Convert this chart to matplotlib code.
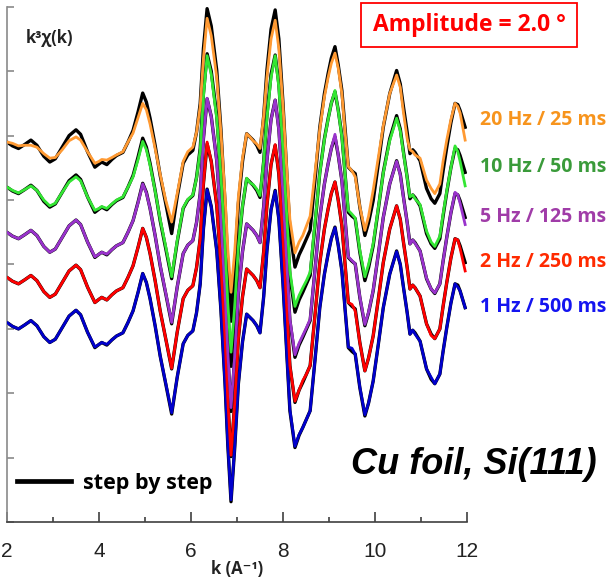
import numpy as np
import matplotlib
matplotlib.use('Agg')
import matplotlib.pyplot as plt
from matplotlib.lines import Line2D
from matplotlib.patches import Rectangle

# k grid (A^-1) and k^3 chi(k) values (relative to each curve's offset)
k = [2.00, 2.12, 2.25, 2.38, 2.52, 2.65, 2.80, 2.93, 3.05, 3.20,
     3.35, 3.50, 3.60, 3.75, 3.91, 4.00, 4.06, 4.17, 4.28, 4.38,
     4.52, 4.63, 4.74, 4.85, 4.95, 5.03, 5.11, 5.22, 5.33, 5.45,
     5.58, 5.70, 5.83, 5.93, 6.04, 6.12, 6.20, 6.27, 6.35, 6.44,
     6.56, 6.65, 6.74, 6.80, 6.87, 6.95, 7.03, 7.12, 7.21, 7.28,
     7.35, 7.43, 7.50, 7.58, 7.65, 7.74, 7.83, 7.91, 8.00, 8.08,
     8.15, 8.26, 8.35, 8.43, 8.51, 8.59, 8.70, 8.80, 8.90, 8.98,
     9.05, 9.13, 9.20, 9.28, 9.35, 9.42, 9.50, 9.57, 9.67, 9.78,
     9.86, 9.96, 10.07, 10.18, 10.32, 10.47, 10.55, 10.62, 10.70, 10.76,
     10.82, 10.87, 10.98, 11.12, 11.22, 11.30, 11.41, 11.48, 11.56, 11.65,
     11.74, 11.80, 11.85, 11.96]

chi_step = [0.00, -0.06, -0.10, -0.04, 0.03, -0.05, -0.22, -0.31, -0.26, -0.08,
            0.10, 0.19, 0.12, -0.15, -0.39, -0.34, -0.31, -0.35, -0.27, -0.21,
            -0.16, 0.00, 0.18, 0.47, 0.76, 0.62, 0.37, -0.05, -0.52, -0.95,
            -1.42, -0.85, -0.33, -0.20, -0.13, 0.15, 0.60, 1.45, 2.07, 1.80,
            1.11, 0.20, -0.95, -1.90, -2.78, -1.95, -0.95, -0.30, 0.13, 0.08,
            0.03, -0.05, -0.16, 0.40, 1.11, 1.75, 2.05, 1.60, 0.60, -0.45,
            -1.37, -1.94, -1.75, -1.63, -1.50, -1.37, -0.55, 0.23, 0.75, 1.06,
            1.30, 1.48, 1.20, 0.80, 0.20, -0.39, -0.45, -0.49, -1.01, -1.45,
            -1.25, -0.91, -0.35, 0.23, 0.75, 1.11, 0.90, 0.54, 0.15, -0.18,
            -0.12, -0.16, -0.29, -0.72, -0.88, -0.95, -0.80, -0.45, -0.08, 0.30,
            0.60, 0.58, 0.49, 0.23]

chi_1hz = [0.00, -0.06, -0.10, -0.04, 0.03, -0.05, -0.22, -0.31, -0.26, -0.08,
           0.10, 0.19, 0.12, -0.15, -0.38, -0.34, -0.31, -0.34, -0.27, -0.21,
           -0.16, 0.00, 0.18, 0.47, 0.76, 0.62, 0.37, -0.05, -0.52, -0.94,
           -1.40, -0.85, -0.33, -0.20, -0.13, 0.15, 0.60, 1.45, 2.06, 1.80,
           1.11, 0.20, -0.95, -1.88, -2.75, -1.93, -0.95, -0.30, 0.13, 0.08,
           0.03, -0.05, -0.16, 0.40, 1.11, 1.75, 2.04, 1.60, 0.60, -0.45,
           -1.35, -1.92, -1.74, -1.63, -1.50, -1.37, -0.55, 0.23, 0.75, 1.06,
           1.30, 1.47, 1.20, 0.80, 0.20, -0.38, -0.40, -0.49, -1.00, -1.43,
           -1.25, -0.91, -0.35, 0.23, 0.75, 1.10, 0.90, 0.54, 0.15, -0.18,
           -0.12, -0.18, -0.29, -0.72, -0.85, -0.95, -0.80, -0.45, -0.08, 0.30,
           0.60, 0.55, 0.49, 0.23]

chi_2hz = [0.00, -0.06, -0.10, -0.04, 0.03, -0.05, -0.22, -0.31, -0.26, -0.08,
           0.10, 0.19, 0.12, -0.15, -0.39, -0.34, -0.31, -0.35, -0.27, -0.21,
           -0.16, 0.00, 0.18, 0.47, 0.76, 0.62, 0.37, -0.05, -0.52, -0.95,
           -1.41, -0.85, -0.33, -0.20, -0.13, 0.15, 0.60, 1.45, 2.10, 1.80,
           1.11, 0.20, -0.95, -1.90, -2.76, -1.95, -0.95, -0.30, 0.13, 0.08,
           0.03, -0.05, -0.16, 0.40, 1.11, 1.75, 2.06, 1.60, 0.60, -0.45,
           -1.37, -1.92, -1.75, -1.60, -1.50, -1.37, -0.55, 0.23, 0.75, 1.06,
           1.30, 1.48, 1.20, 0.80, 0.20, -0.39, -0.42, -0.52, -1.01, -1.45,
           -1.25, -0.91, -0.35, 0.23, 0.75, 1.11, 0.90, 0.54, 0.15, -0.18,
           -0.12, -0.16, -0.29, -0.72, -0.90, -0.95, -0.80, -0.45, -0.08, 0.30,
           0.60, 0.58, 0.45, 0.10]

chi_5hz = [0.00, -0.06, -0.10, -0.04, 0.03, -0.05, -0.22, -0.31, -0.26, -0.08,
           0.10, 0.19, 0.12, -0.15, -0.38, -0.34, -0.31, -0.34, -0.27, -0.21,
           -0.16, 0.00, 0.18, 0.46, 0.75, 0.61, 0.37, -0.05, -0.51, -0.94,
           -1.40, -0.85, -0.33, -0.20, -0.13, 0.15, 0.60, 1.45, 2.08, 1.80,
           1.10, 0.20, -0.93, -1.86, -2.72, -1.92, -0.94, -0.30, 0.13, 0.08,
           0.03, -0.05, -0.16, 0.40, 1.10, 1.74, 2.05, 1.58, 0.60, -0.45,
           -1.35, -1.90, -1.72, -1.60, -1.48, -1.35, -0.55, 0.23, 0.75, 1.06,
           1.30, 1.52, 1.20, 0.80, 0.20, -0.38, -0.44, -0.49, -1.00, -1.43,
           -1.24, -0.90, -0.35, 0.23, 0.75, 1.10, 0.89, 0.53, 0.15, -0.18,
           -0.12, -0.17, -0.29, -0.71, -0.88, -0.94, -0.80, -0.45, -0.08, 0.30,
           0.62, 0.58, 0.45, 0.12]

chi_10hz = [0.00, -0.05, -0.09, -0.04, 0.02, -0.05, -0.20, -0.29, -0.25, -0.08,
            0.08, 0.16, 0.10, -0.15, -0.36, -0.33, -0.30, -0.33, -0.26, -0.20,
            -0.15, 0.00, 0.16, 0.43, 0.71, 0.58, 0.34, -0.06, -0.50, -0.92,
            -1.39, -0.83, -0.32, -0.19, -0.12, 0.14, 0.57, 1.40, 2.04, 1.75,
            1.06, 0.18, -0.90, -1.80, -2.56, -1.85, -0.92, -0.29, 0.14, 0.07,
            0.04, -0.03, -0.13, 0.40, 1.07, 1.70, 2.04, 1.55, 0.58, -0.43,
            -1.30, -1.85, -1.68, -1.56, -1.45, -1.32, -0.52, 0.22, 0.74, 1.05,
            1.30, 1.50, 1.19, 0.78, 0.20, -0.36, -0.42, -0.48, -0.98, -1.39,
            -1.20, -0.88, -0.33, 0.22, 0.72, 1.07, 0.87, 0.52, 0.14, -0.15,
            -0.12, -0.18, -0.27, -0.68, -0.85, -0.92, -0.76, -0.42, -0.06, 0.30,
            0.64, 0.55, 0.40, 0.02]

chi_20hz = [0.00, -0.02, -0.06, -0.05, -0.05, -0.08, -0.18, -0.25, -0.24, -0.12,
            0.02, 0.08, 0.03, -0.15, -0.33, -0.30, -0.27, -0.28, -0.24, -0.20,
            -0.15, 0.00, 0.14, 0.38, 0.60, 0.50, 0.28, -0.10, -0.50, -0.90,
            -1.24, -0.80, -0.30, -0.15, -0.08, 0.15, 0.55, 1.30, 1.92, 1.65,
            1.00, 0.15, -0.85, -1.65, -2.33, -1.70, -0.85, -0.25, 0.13, 0.08,
            0.02, -0.03, -0.10, 0.40, 1.00, 1.60, 1.89, 1.45, 0.55, -0.40,
            -1.20, -1.72, -1.55, -1.45, -1.30, -1.15, -0.45, 0.20, 0.70, 1.00,
            1.22, 1.38, 1.15, 0.75, 0.15, -0.38, -0.45, -0.54, -1.00, -1.37,
            -1.15, -0.75, -0.25, 0.25, 0.75, 1.04, 0.85, 0.45, 0.05, -0.12,
            -0.15, -0.20, -0.25, -0.59, -0.72, -0.80, -0.65, -0.30, 0.03, 0.35,
            0.60, 0.55, 0.45, 0.03]

labels = ['1 Hz / 500 ms', '2 Hz / 250 ms', '5 Hz / 125 ms', '10 Hz / 50 ms', '20 Hz / 25 ms']
offsets = [3.1, 3.8, 4.5, 5.2, 5.9]
curves = [chi_1hz, chi_2hz, chi_5hz, chi_10hz, chi_20hz]
line_colors = ['#0000CC', '#FF0000', '#9933CC', '#33E633', '#FF9A33']
text_colors = ['#1414F0', '#FF2A00', '#A03CA8', '#3A9B3A', '#F7941D']
label_y = [307, 262, 217, 167, 120]  # pixel rows of the side labels

BOLD = ['Open Sans', 'DejaVu Sans']

fig = plt.figure(figsize=(6.14, 5.80), dpi=100)
ax = fig.add_axes([7 / 614, 57.7 / 580, 460 / 614, 515.6 / 580])

for chi, off, col in zip(curves, offsets, line_colors):
    ax.plot(k, np.array(chi_step) + off, color='black', lw=2.4, solid_joinstyle='round', zorder=2)
    ax.plot(k, np.array(chi) + off, color=col, lw=2.0, solid_joinstyle='round', zorder=3)

ax.set_xlim(2, 12)
ax.set_ylim(0, 8)
ax.set_xticks([2, 4, 6, 8, 10, 12])
ax.set_xticks([3, 5, 7, 9, 11], minor=True)
ax.set_yticks(range(0, 9))
ax.set_yticklabels([])
for s in ['top', 'right']:
    ax.spines[s].set_visible(False)
ax.spines['left'].set_color('#8a8a8a')
ax.spines['bottom'].set_color('#404040')
ax.spines['left'].set_linewidth(1.2)
ax.spines['bottom'].set_linewidth(1.2)
ax.tick_params(axis='y', direction='in', length=5, width=1.2, color='#8a8a8a')
ax.tick_params(axis='x', which='major', direction='in', length=7, width=1.2, color='#404040',
               pad=14, labelsize=15, labelcolor='#222222')
ax.tick_params(axis='x', which='minor', direction='in', length=3.5, width=1.2, color='#404040')
for t in ax.get_xticklabels():
    t.set_fontfamily('Liberation Sans')

ax.set_xlabel('k (A⁻¹)', fontsize=12, fontweight='bold', family=BOLD, color='#222222')
ax.xaxis.set_label_coords(0.5, -0.073)

ax.text(0.041, 0.939, 'k³χ(k)', transform=ax.transAxes, fontsize=12, fontweight='bold',
        family=BOLD, va='center', ha='left', color='#222222')

# frequency / time labels on the right
for lab, ly, tc in zip(labels, label_y, text_colors):
    fig.text(543 / 614, 1 - ly / 580, lab, color=tc, fontsize=14, fontweight='bold',
             family=BOLD, ha='center', va='center')

# amplitude box
fig.patches.append(Rectangle((361 / 614, 1 - 47 / 580), 216 / 614, 44 / 580, transform=fig.transFigure,
                             fill=False, edgecolor='#FF0000', lw=1.3))
fig.text(469 / 614, 1 - 25 / 580, 'Amplitude = 2.0 °', color='#FF0000', fontsize=16.5, fontweight='bold',
         family=BOLD, ha='center', va='center')

fig.text(474 / 614, 1 - 465 / 580, 'Cu foil, Si(111)', fontsize=26, fontweight='bold', style='italic',
         family=['Liberation Sans', 'DejaVu Sans'], ha='center', va='center')

# step by step legend
h = Line2D([], [], color='black', lw=3.4)
leg = ax.legend([h], ['step by step'], loc='center left', bbox_to_anchor=(0.0217, 0.076),
                frameon=False, borderpad=0, borderaxespad=0, handlelength=2.5, handletextpad=0.55,
                prop={'family': 'Open Sans', 'weight': 'bold', 'size': 15.5})

fig.savefig('out.png', dpi=100)
